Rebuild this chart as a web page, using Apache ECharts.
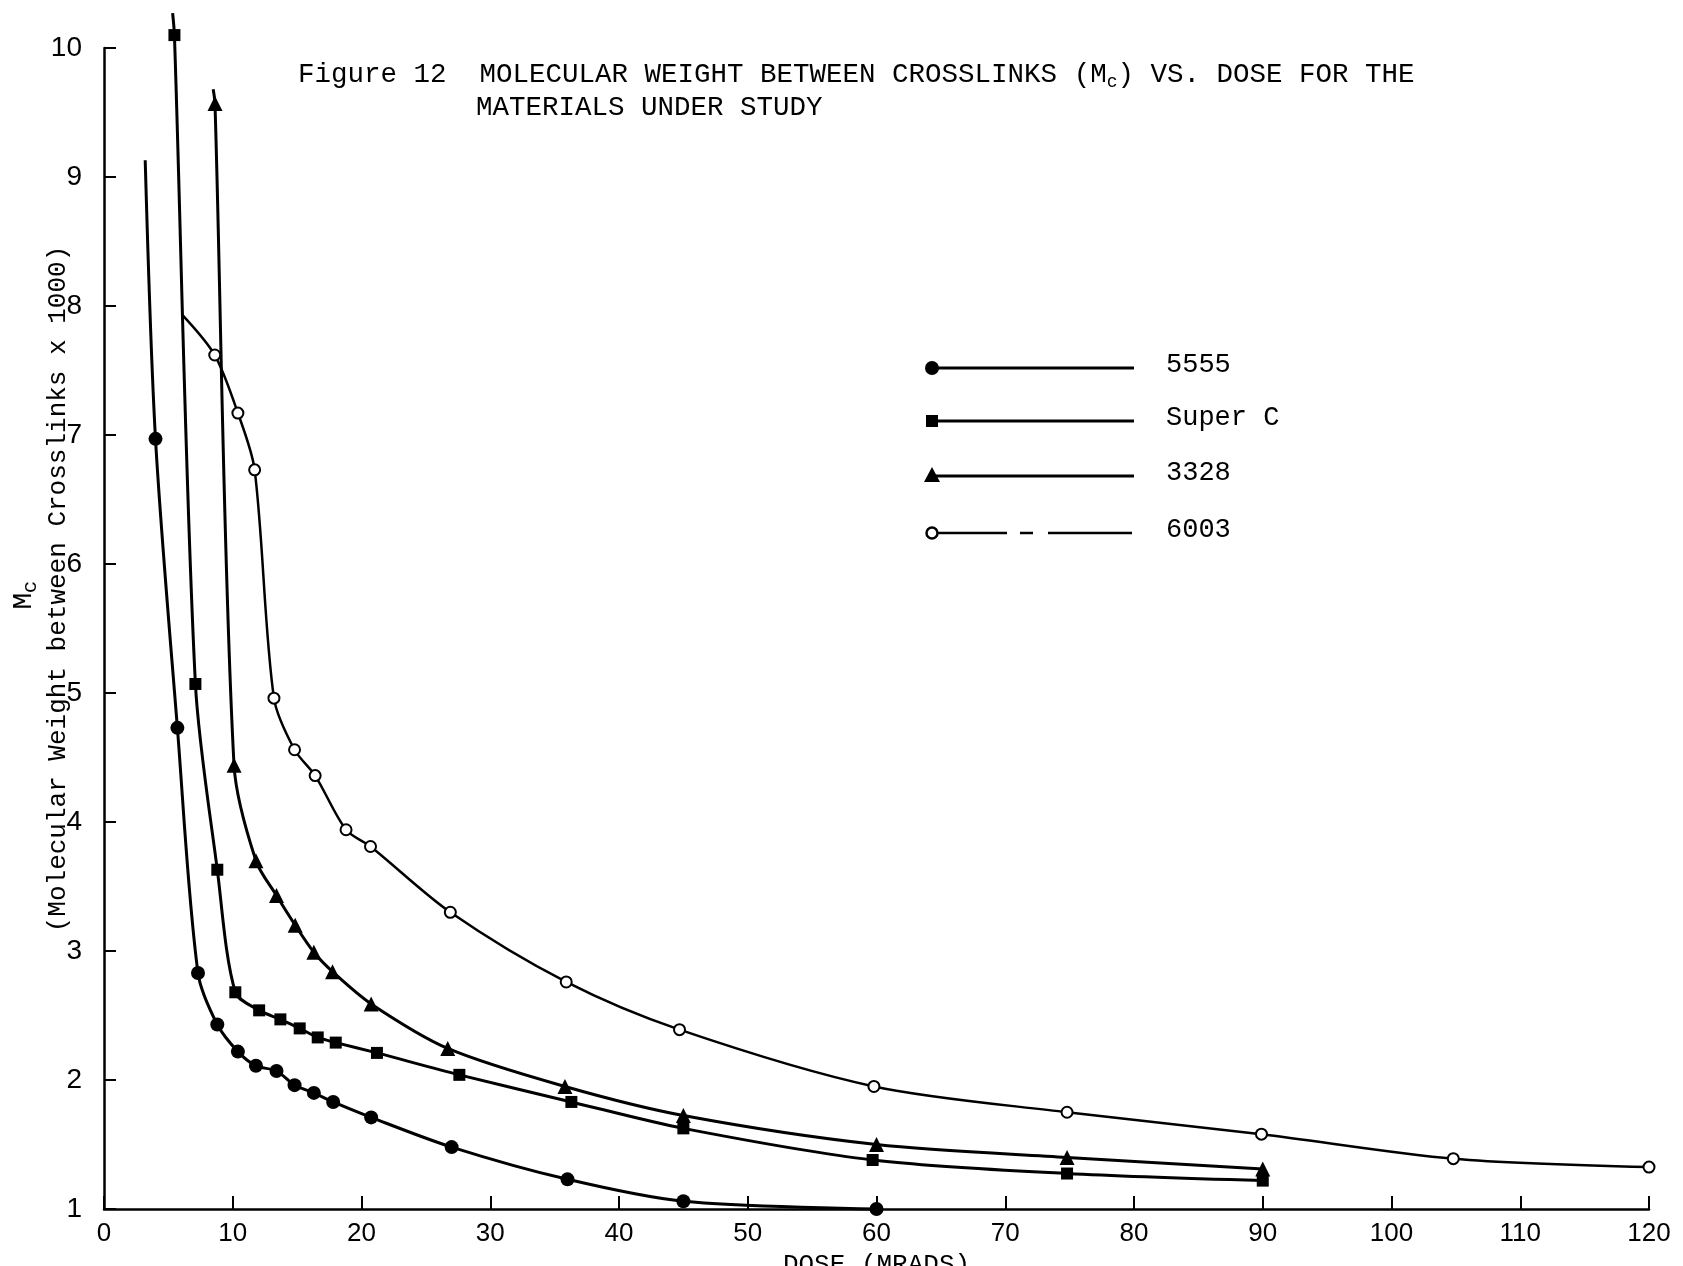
<!DOCTYPE html>
<html><head><meta charset="utf-8">
<script src="https://cdn.jsdelivr.net/npm/echarts@6/dist/echarts.min.js"></script>
<style>html,body{margin:0;padding:0;background:#fff}#c{width:1683px;height:1266px}</style>
</head><body><div id="c"></div>
<script>
// ---- data (dose in MRADS, Mc x 1000) ----
const seriesNames = ['5555', 'Super C', '3328', '6003'];

const start5555 = [3.2, 9.13];            // unmarked top end of the curve
const dose5555 = [4.0, 5.7, 7.3, 8.8, 10.4, 11.8, 13.4, 14.8, 16.3, 17.8, 20.75, 27, 36, 45, 60];
const mc5555   = [6.97, 4.73, 2.83, 2.43, 2.22, 2.11, 2.07, 1.96, 1.90, 1.83, 1.71, 1.48, 1.23, 1.06, 1.0];

const startSuperC = [5.33, 10.27];
const doseSuperC = [5.47, 7.1, 8.8, 10.2, 12.05, 13.7, 15.2, 16.6, 18.0, 21.2, 27.6, 36.3, 45, 59.7, 74.8, 90];
const mcSuperC   = [10.1, 5.07, 3.63, 2.68, 2.54, 2.47, 2.40, 2.33, 2.29, 2.21, 2.04, 1.83, 1.625, 1.38, 1.275, 1.22];

const start3328 = [8.48, 9.68];
const dose3328 = [8.62, 10.1, 11.8, 13.4, 14.85, 16.3, 17.75, 20.75, 26.7, 35.8, 45, 60, 74.8, 90];
const mc3328   = [9.57, 4.44, 3.70, 3.43, 3.20, 2.99, 2.84, 2.59, 2.245, 1.95, 1.725, 1.5, 1.4, 1.31];

const start6003 = [6.1, 7.93];
const dose6003 = [8.6, 10.4, 11.7, 13.2, 14.8, 16.4, 18.8, 20.7, 26.9, 35.9, 44.7, 59.8, 74.8, 89.9, 104.8, 120];
const mc6003   = [7.62, 7.17, 6.73, 4.96, 4.56, 4.36, 3.94, 3.81, 3.30, 2.76, 2.39, 1.95, 1.75, 1.58, 1.39, 1.325];

const xMin = 0, xMax = 120, xStep = 10;
const yMin = 1, yMax = 10, yStep = 1;

const titleLine1 = 'Figure 12  MOLECULAR WEIGHT BETWEEN CROSSLINKS (M';
const titleSub = 'c';
const titleLine1b = ') VS. DOSE FOR THE';
const titleLine2 = 'MATERIALS UNDER STUDY';
const yName = '(Molecular Weight between Crosslinks x 1000)';
const yNameTop = 'M';
const yNameTopSub = 'c';
const xName = 'DOSE (MRADS)';

// ---- build ----
function build(start, xs, ys) {
  const d = [{ value: start, symbol: 'none' }];
  xs.forEach((x, i) => d.push([x, ys[i]]));
  return d;
}
const MONO = '"Liberation Mono", "DejaVu Sans Mono", monospace';
const SANS = '"Liberation Sans", Arial, sans-serif';
const K = '#000';

const baseLine = {
  type: 'line', smooth: 0.3, clip: false,
  lineStyle: { color: K, width: 3 }, itemStyle: { color: K },
  emphasis: { disabled: true }, z: 3
};

const chart = echarts.init(document.getElementById('c'), null, { renderer: 'canvas' });

const legendRows = [368, 421, 476, 533];
const LX0 = 932, LX1 = 1134, LT = 1166;
const legendGraphics = [];
legendRows.forEach((y, i) => {
  if (i < 3) {
    legendGraphics.push({ type: 'line', shape: { x1: LX0, y1: y, x2: LX1, y2: y }, style: { stroke: K, lineWidth: 3 } });
  } else {
    [[LX0, 1007], [1020, 1033], [1048, 1132]].forEach(s =>
      legendGraphics.push({ type: 'line', shape: { x1: s[0], y1: y, x2: s[1], y2: y }, style: { stroke: K, lineWidth: 2.5 } }));
  }
  legendGraphics.push({ type: 'text', x: LT, y: y - 3, style: { text: seriesNames[i], font: '27px ' + MONO, fill: K, align: 'left', verticalAlign: 'middle', textAlign: 'left', textVerticalAlign: 'middle' } });
});
legendGraphics.push({ type: 'circle', shape: { cx: LX0, cy: legendRows[0], r: 7 }, style: { fill: K } });
legendGraphics.push({ type: 'rect', shape: { x: LX0 - 6, y: legendRows[1] - 6, width: 12, height: 12 }, style: { fill: K } });
legendGraphics.push({ type: 'polygon', shape: { points: [[LX0, legendRows[2] - 9], [LX0 - 8, legendRows[2] + 6], [LX0 + 8, legendRows[2] + 6]] }, style: { fill: K } });
legendGraphics.push({ type: 'circle', shape: { cx: LX0, cy: legendRows[3], r: 5.5 }, style: { fill: '#fff', stroke: K, lineWidth: 2.5 } });

chart.setOption({
  animation: false,
  backgroundColor: '#fff',
  title: [
    {
      left: 298, top: 59, padding: 0,
      text: '{t|' + titleLine1 + '}{s|' + titleSub + '}{t|' + titleLine1b + '}',
      textStyle: {
        fontWeight: 'normal',
        rich: {
          t: { fontFamily: MONO, fontSize: 27.5, fontWeight: 'normal', color: K, lineHeight: 32, verticalAlign: 'middle' },
          s: { fontFamily: MONO, fontSize: 18, fontWeight: 'normal', color: K, lineHeight: 18, verticalAlign: 'bottom' }
        }
      }
    },
    {
      left: 476, top: 92, padding: 0,
      text: titleLine2,
      textStyle: { fontFamily: MONO, fontSize: 27.5, color: K, fontWeight: 'normal', lineHeight: 32 }
    }
  ],
  grid: { left: 104, right: 34, top: 48, bottom: 57, containLabel: false, outerBoundsMode: 'none' },
  xAxis: {
    type: 'value', min: xMin, max: xMax, interval: xStep,
    name: xName, nameLocation: 'middle', nameGap: 40,
    nameTextStyle: { fontFamily: MONO, fontSize: 26, color: K, verticalAlign: 'top' },
    axisLine: { show: true, lineStyle: { color: K, width: 2.5 } },
    axisTick: { show: true, inside: true, length: 13, lineStyle: { color: K, width: 2 } },
    axisLabel: { fontFamily: SANS, fontSize: 26, color: K, margin: 12 },
    splitLine: { show: false }
  },
  yAxis: {
    type: 'value', min: yMin, max: yMax, interval: yStep,
    axisLine: { show: true, lineStyle: { color: K, width: 2.5 } },
    axisTick: { show: true, inside: true, length: 12, lineStyle: { color: K, width: 2 } },
    axisLabel: { fontFamily: SANS, fontSize: 28, color: K, margin: 22 },
    splitLine: { show: false }
  },
  graphic: [
    { type: 'text', x: 58, y: 589, rotation: Math.PI / 2,
      style: { text: yName, font: '26px ' + MONO, fill: K, align: 'center', verticalAlign: 'middle', textAlign: 'center', textVerticalAlign: 'middle' } },
    { type: 'text', x: 24, y: 601, rotation: Math.PI / 2,
      style: { text: yNameTop, font: '28px ' + MONO, fill: K, align: 'center', verticalAlign: 'middle', textAlign: 'center', textVerticalAlign: 'middle' } },
    { type: 'text', x: 30, y: 587, rotation: Math.PI / 2,
      style: { text: yNameTopSub, font: '21px ' + MONO, fill: K, align: 'center', verticalAlign: 'middle', textAlign: 'center', textVerticalAlign: 'middle' } }
  ].concat(legendGraphics),
  series: [
    Object.assign({}, baseLine, { name: seriesNames[0], symbol: 'circle', symbolSize: 14, data: build(start5555, dose5555, mc5555) }),
    Object.assign({}, baseLine, { name: seriesNames[1], symbol: 'rect', symbolSize: 12, data: build(startSuperC, doseSuperC, mcSuperC) }),
    Object.assign({}, baseLine, { name: seriesNames[2], symbol: 'triangle', symbolSize: 15, data: build(start3328, dose3328, mc3328) }),
    Object.assign({}, baseLine, { name: seriesNames[3], symbol: 'emptyCircle', symbolSize: 11,
      lineStyle: { color: K, width: 2.5 }, itemStyle: { color: K, borderColor: K, borderWidth: 2.5 },
      data: build(start6003, dose6003, mc6003) })
  ]
});
</script>
</body></html>
